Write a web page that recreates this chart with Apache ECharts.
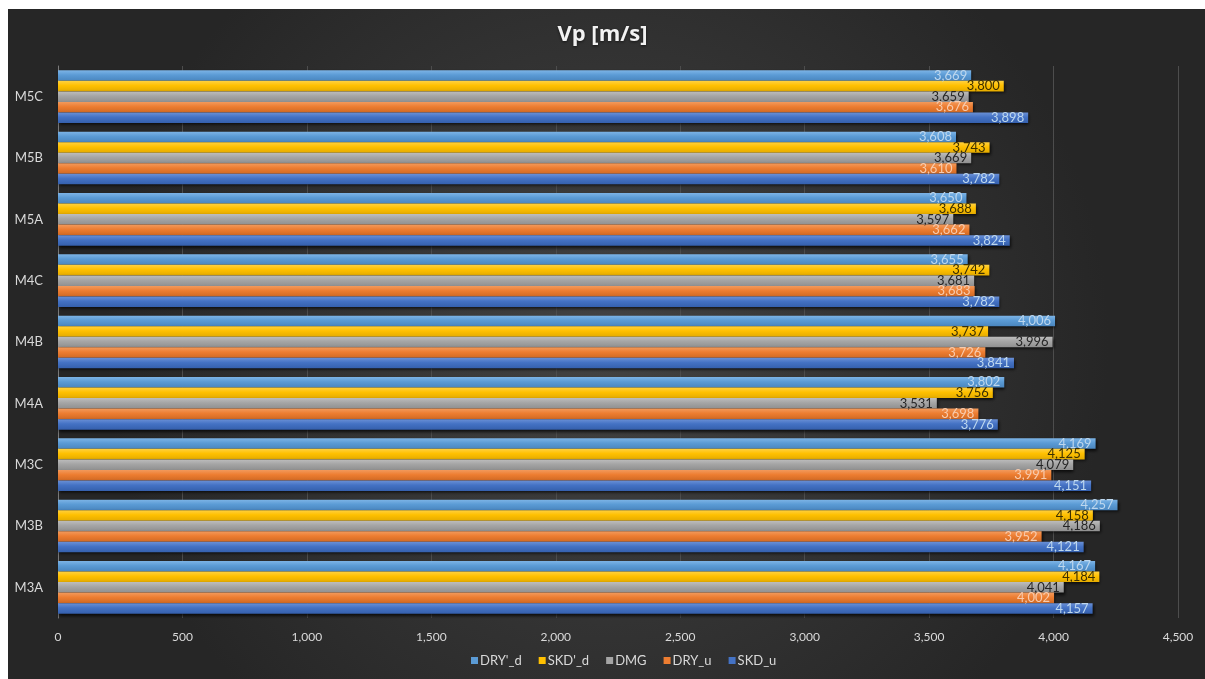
<!DOCTYPE html>
<html>
<head>
<meta charset="utf-8">
<script src="https://cdn.jsdelivr.net/npm/echarts@6/dist/echarts.min.js"></script>
<style>
  html, body { margin: 0; padding: 0; background: #ffffff; }
  #chart { width: 1205px; height: 679px; }
</style>
</head>
<body>
<div id="chart"></div>
<script>
// Samples, listed from the bottom of the axis to the top
const categories = ['M3A', 'M3B', 'M3C', 'M4A', 'M4B', 'M4C', 'M5A', 'M5B', 'M5C'];

// P-wave velocity per condition [m/s]
const dryDPrime = [4167, 4257, 4169, 3802, 4006, 3655, 3650, 3608, 3669];
const skdDPrime = [4184, 4158, 4125, 3756, 3737, 3742, 3688, 3743, 3800];
const dmg       = [4041, 4186, 4079, 3531, 3996, 3681, 3597, 3669, 3659];
const dryU      = [4002, 3952, 3991, 3698, 3726, 3683, 3662, 3610, 3676];
const skdU      = [4157, 4121, 4151, 3776, 3841, 3782, 3824, 3782, 3898];

const seriesNames = ["DRY'_d", "SKD'_d", 'DMG', 'DRY_u', 'SKD_u'];
const xTicks = [0, 500, 1000, 1500, 2000, 2500, 3000, 3500, 4000, 4500];

const fmt = v => Number(v).toLocaleString('en-US');

const chart = echarts.init(document.getElementById('chart'));

function shaded(top, mid, bottom) {
  return new echarts.graphic.LinearGradient(0, 0, 0, 1, [
    { offset: 0, color: top },
    { offset: 0.45, color: mid },
    { offset: 1, color: bottom }
  ]);
}

const styles = [
  { data: dryDPrime, fill: shaded('#7db4e6', '#5b9bd5', '#4a86bf'), legend: '#5b9bd5', label: '#bdd7ee' },
  { data: skdDPrime, fill: shaded('#ffd140', '#ffc000', '#e5ac00'), legend: '#ffc000', label: '#3d3000' },
  { data: dmg,       fill: shaded('#bdbdbd', '#a5a5a5', '#909090'), legend: '#a5a5a5', label: '#262626' },
  { data: dryU,      fill: shaded('#f29a5c', '#ed7d31', '#d16a24'), legend: '#ed7d31', label: '#f8cbad' },
  { data: skdU,      fill: shaded('#6a90d6', '#4472c4', '#3560ad'), legend: '#4472c4', label: '#bdd7ee' }
];

const series = styles.map((s, i) => ({
  name: seriesNames[i],
  type: 'bar',
  data: s.data,
  barGap: '0%',
  barCategoryGap: '14%',
  itemStyle: {
    color: s.fill,
    shadowColor: 'rgba(0,0,0,0.75)',
    shadowBlur: 3,
    shadowOffsetX: 1,
    shadowOffsetY: 2
  },
  label: {
    show: true,
    position: 'insideRight',
    distance: 4,
    formatter: p => fmt(p.value),
    color: s.label,
    fontFamily: 'Lato',
    fontSize: 13
  },
  emphasis: { disabled: true }
}));

chart.setOption({
  animation: false,
  backgroundColor: 'transparent',
  graphic: [{
    type: 'rect',
    z: -10,
    silent: true,
    shape: { x: 8, y: 9, width: 1197, height: 670 },
    style: {
      fill: new echarts.graphic.RadialGradient(0.5, 0.5, 0.75, [
        { offset: 0, color: '#434343' },
        { offset: 1, color: '#262626' }
      ])
    }
  }],
  title: {
    text: 'Vp [m/s]',
    left: 'center',
    top: 19,
    textStyle: {
      color: '#f2f2f2',
      fontFamily: 'Open Sans',
      fontWeight: 'bold',
      fontSize: 22,
      textShadowColor: 'rgba(0,0,0,0.6)',
      textShadowBlur: 3,
      textShadowOffsetY: 1
    }
  },
  legend: {
    data: seriesNames.map((n, i) => ({ name: n, itemStyle: { color: styles[i].legend } })),
    bottom: 7,
    left: 466,
    icon: 'rect',
    itemWidth: 7,
    itemHeight: 7,
    itemGap: 17,
    textStyle: { color: '#d9d9d9', fontFamily: 'Lato', fontSize: 13, padding: [0, 0, 0, -3] }
  },
  grid: { left: 58, right: 27, top: 66, bottom: 61, containLabel: false },
  xAxis: {
    type: 'value',
    min: xTicks[0],
    max: xTicks[xTicks.length - 1],
    interval: 500,
    axisLine: { show: false },
    axisTick: { show: false },
    axisLabel: { color: '#d9d9d9', fontFamily: 'Lato', fontSize: 12, margin: 13, formatter: v => fmt(v) },
    splitLine: { show: true, lineStyle: { color: '#4d4d4d', width: 1 } }
  },
  yAxis: {
    type: 'category',
    data: categories,
    axisLine: { show: true, lineStyle: { color: '#7a7a7a', width: 1 } },
    axisTick: { show: false },
    axisLabel: { color: '#d9d9d9', fontFamily: 'Lato', fontSize: 13, margin: 15 }
  },
  series: series
});
</script>
</body>
</html>
